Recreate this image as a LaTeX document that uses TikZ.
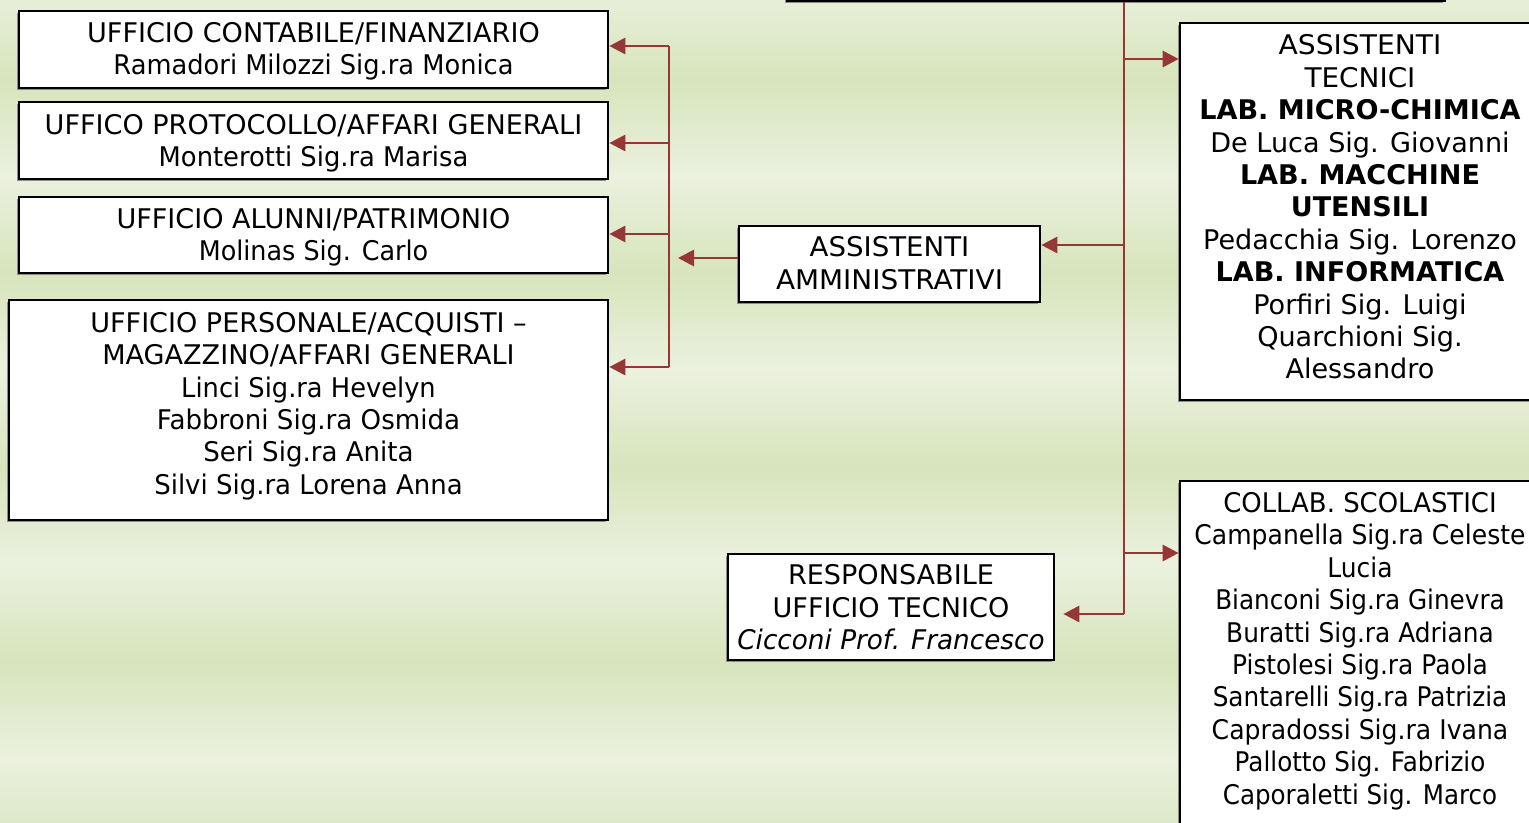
\documentclass[tikz,border=0pt]{standalone}
\usepackage{fontspec}
\usepackage{graphicx}
\setmainfont{DejaVu Sans}
\usetikzlibrary{arrows.meta,fit,shadows}
\definecolor{conn}{HTML}{953735}
\definecolor{bglight}{HTML}{EBF1DE}
\definecolor{bgdark}{HTML}{D7E4BC}
\newcommand\sx[2]{\scalebox{#1}[1]{#2}}
\tikzset{
  box/.style={draw=black, line width=2pt, fill=white, inner sep=0pt, rectangle,
    general shadow={fill=black!45, shadow xshift=-1.4pt, shadow yshift=-1.4pt}},
  txt/.style={align=center, inner sep=0pt, font=\fontsize{20.3pt}{24.3pt}\selectfont},
  conn/.style={draw=conn, line width=2.2pt},
  arr/.style={conn, -{Triangle[length=12pt,width=12pt]}},
}
\begin{document}
\begin{tikzpicture}[x=0.75pt,y=-0.75pt]
\useasboundingbox (0,0) rectangle (1529,822);
\clip (0,0) rectangle (1529,822);
% background stripes
\foreach \k in {0,...,4} {
  \pgfmathsetmacro\a{-18+194*\k}
  \shade[top color=bglight, bottom color=bgdark] (-5,\a) rectangle (1535,\a+97.5);
  \shade[top color=bgdark, bottom color=bglight] (-5,\a+97) rectangle (1535,\a+194.5);
}
% boxes
\node[box, fit={(787,-60) (1445,1)}] (top) {};
\node[box, fit={(1180,23) (1545,400)}] (AT) {};
\node[box, fit={(1180,481) (1545,860)}] (CO) {};
\node[box, fit={(739,226) (1040,302)}] (AA) {};
\node[box, fit={(728,554) (1054,660)}] (RT) {};
\node[box, fit={(19,11) (608,88)}] (B1) {};
\node[box, fit={(19,102) (608,179)}] (B2) {};
\node[box, fit={(19,197) (608,273)}] (B3) {};
\node[box, fit={(9,300) (608,520)}] (B4) {};
% texts
\node[txt] (tAT) at (1360,207) {\sx{1.04}{ASSISTENTI}\\\sx{1.03}{TECNICI}\\\textbf{LAB. MICRO-CHIMICA}\\De Luca Sig. Giovanni\\\textbf{LAB. MACCHINE}\\\textbf{UTENSILI}\\Pedacchia Sig. Lorenzo\\\textbf{LAB. INFORMATICA}\\Porfiri Sig. Luigi\\Quarchioni Sig.\\Alessandro};
\node[txt] (tCO) at (1360,651) {\sx{0.958}{COLLAB. SCOLASTICI}\\\sx{0.926}{Campanella Sig.ra Celeste}\\\sx{0.92}{Lucia}\\\sx{0.912}{Bianconi Sig.ra Ginevra}\\\sx{0.917}{Buratti Sig.ra Adriana}\\\sx{0.92}{Pistolesi Sig.ra Paola}\\\sx{0.913}{Santarelli Sig.ra Patrizia}\\\sx{0.928}{Capradossi Sig.ra Ivana}\\\sx{0.91}{Pallotto Sig. Fabrizio}\\\sx{0.907}{Caporaletti Sig. Marco}};
\node[txt] (tAA) at (889.5,263) {\sx{1.02}{ASSISTENTI}\\\sx{1.03}{AMMINISTRATIVI}};
\node[txt] (tRT) at (891,607.5) {RESPONSABILE\\UFFICIO TECNICO\\\sx{0.97}{\textit{Cicconi Prof. Francesco}}};
\node[txt] (t1) at (313.5,51) {UFFICIO CONTABILE/FINANZIARIO\\\sx{0.95}{Ramadori Milozzi Sig.ra Monica}};
\node[txt] (t2) at (313.5,143) {UFFICO PROTOCOLLO/AFFARI GENERALI\\\sx{0.953}{Monterotti Sig.ra Marisa}};
\node[txt] (t3) at (313.5,237) {UFFICIO ALUNNI/PATRIMONIO\\\sx{0.94}{Molinas Sig. Carlo}};
\node[txt] (t4) at (308.5,406) {UFFICIO PERSONALE/ACQUISTI --\\MAGAZZINO/AFFARI GENERALI\\\sx{0.95}{Linci Sig.ra Hevelyn}\\\sx{0.965}{Fabbroni Sig.ra Osmida}\\\sx{0.963}{Seri Sig.ra Anita}\\\sx{0.96}{Silvi Sig.ra Lorena Anna}};
% right connectors
\coordinate (j1) at (1124,59);
\coordinate (j2) at (1124,245);
\coordinate (j3) at (1124,553);
\coordinate (j4) at (1124,614);
\draw[conn] (top.south -| j1) -- (j4);
\draw[arr] (j1) -- (j1 -| AT.west);
\draw[arr] (j2) -- (j2 -| AA.east);
\draw[arr] (j3) -- (j3 -| CO.west);
\draw[arr] (j4) -- ([xshift=6pt]j4 -| RT.east);
% left connectors
\coordinate (m1) at (739,258);
\coordinate (m2) at (678,258);
\draw[arr] (AA.west |- m1) -- (m2);
\coordinate (k1) at (669,46);
\coordinate (k2) at (669,143);
\coordinate (k3) at (669,234);
\coordinate (k4) at (669,367);
\draw[conn] (k1) -- (k4);
\draw[arr] (k1) -- (k1 -| B1.east);
\draw[arr] (k2) -- (k2 -| B2.east);
\draw[arr] (k3) -- (k3 -| B3.east);
\draw[arr] (k4) -- (k4 -| B4.east);
\end{tikzpicture}
\end{document}
